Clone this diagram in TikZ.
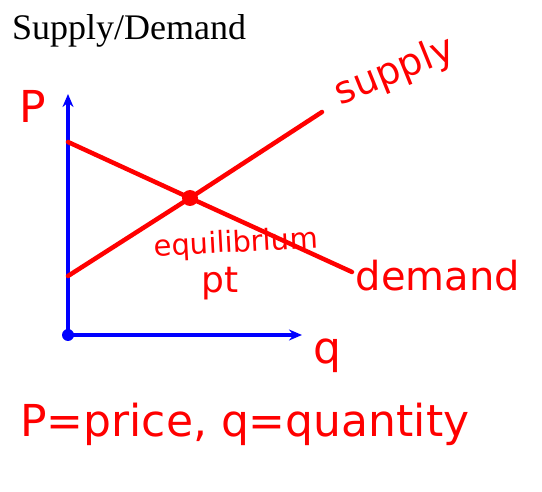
\documentclass[tikz,border=0pt]{standalone}
\usepackage{fontspec}
\setmainfont{Liberation Serif}
\newfontfamily\handfont{DejaVu Sans}
\usetikzlibrary{arrows.meta}
\definecolor{inkRed}{HTML}{FF0000}
\definecolor{axisBlue}{HTML}{0000FF}
\tikzset{
  axis/.style={draw=axisBlue, line width=4.2pt, -{Stealth[length=13pt, width=11pt]}},
  curve/.style={draw=inkRed, line width=4.5pt, line cap=round},
  dot/.style={circle, fill=#1, inner sep=0pt},
  hand/.style={text=inkRed, font=\handfont\fontsize{#1}{#1}\selectfont, inner sep=0pt},
}
\begin{document}
\begin{tikzpicture}[x=1pt, y=-1pt]
\useasboundingbox (0,0) rectangle (542,492);
\node[anchor=base west, inner sep=0pt, font=\fontsize{36}{36}\selectfont] (title) at (12,40) {Supply/Demand};
% axes
\node[dot=axisBlue, minimum size=12pt] (origin) at (68,335) {};
\coordinate (ptop) at (68,94);
\coordinate (qend) at (302,335);
\draw[axis] (origin.center) -- (ptop);
\draw[axis] (origin.center) -- (qend);
\node[hand=44] (plabel) at (33,106) {P};
\node[hand=44] (qlabel) at (327,356) {q};
% curves
\node[dot=inkRed, minimum size=16pt] (eq) at (190,198) {};
\coordinate (dstart) at (68,142);
\coordinate (dend) at (352,272);
\coordinate (sstart) at (68,276);
\coordinate (send) at (322,112);
\draw[curve] (dstart) -- (eq.center) -- (dend);
\draw[curve] (sstart) -- (eq.center) -- (send);
\node[hand=38, rotate=22] (slabel) at (395,72) {supply};
\node[hand=40] (dlabel) at (438,276) {demand};
\node[hand=29, rotate=3] (eqlabel) at (236,244) {equilibrium};
\node[hand=36] (ptlabel) at (220,284) {pt};
% legend
\node[hand=44, anchor=base west] (legend) at (20,437) {P=price, q=quantity};
\end{tikzpicture}
\end{document}
